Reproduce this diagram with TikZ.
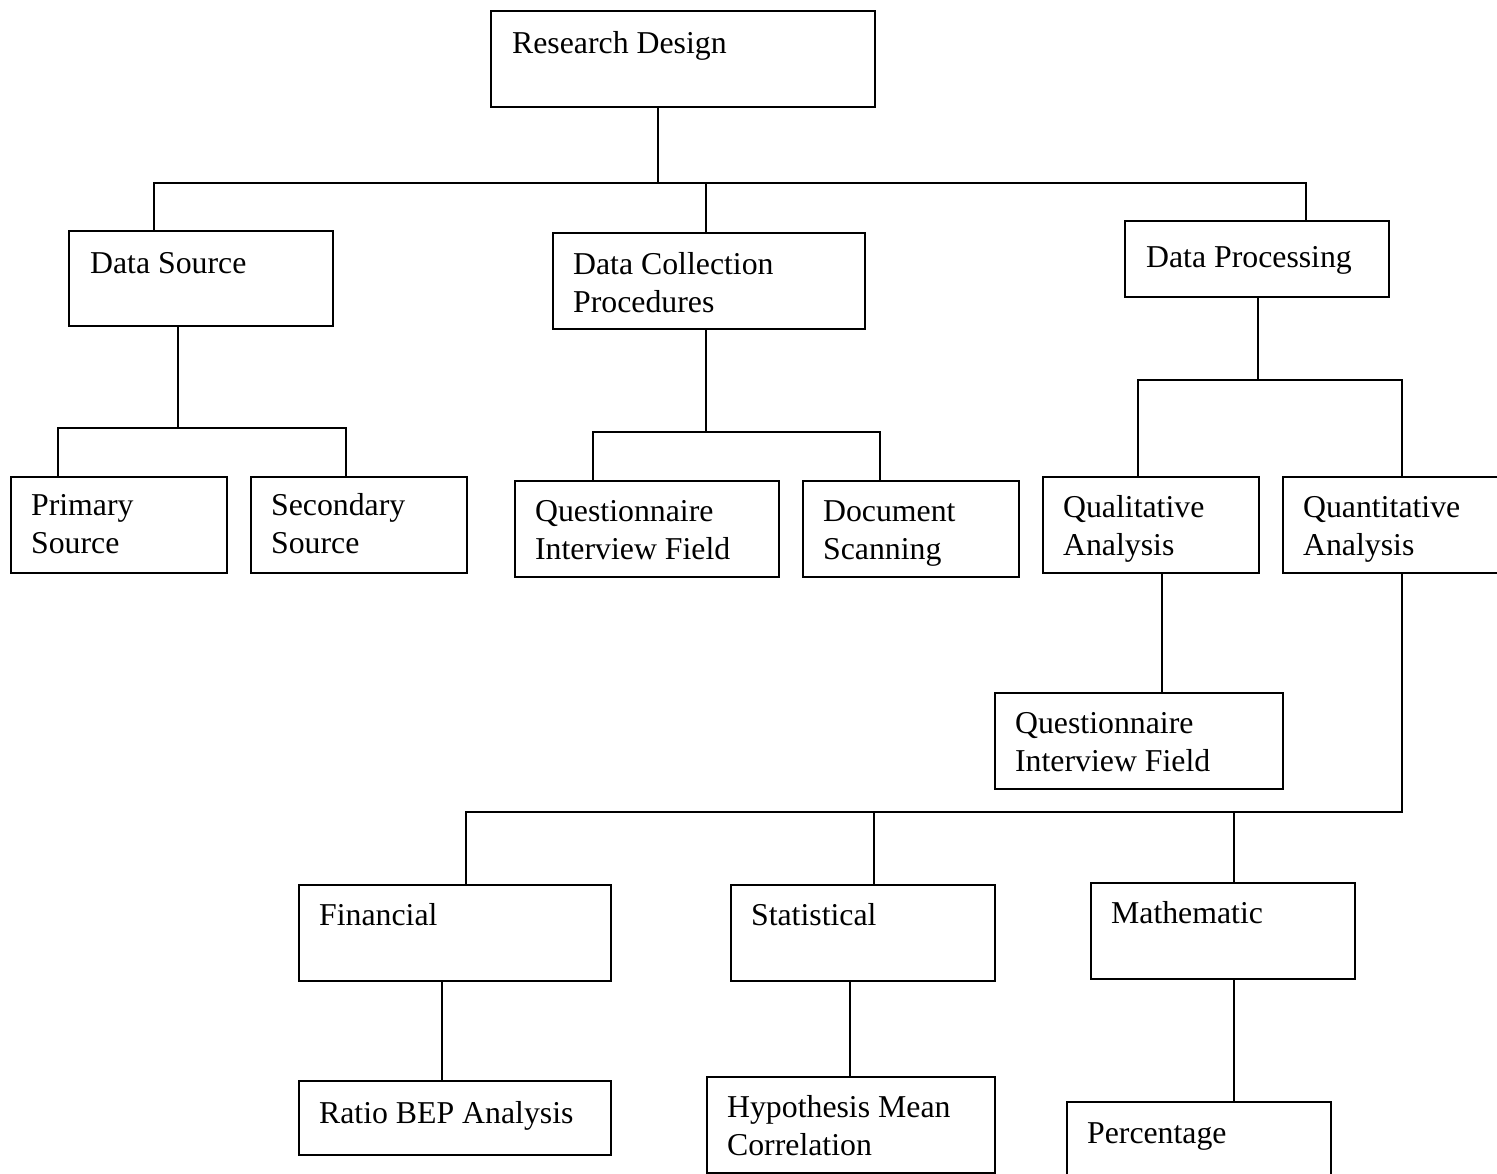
\documentclass[tikz,border=0pt]{standalone}
\usepackage{fontspec}
\setmainfont{Liberation Serif}
\begin{document}
\begin{tikzpicture}[x=1pt,y=-1pt,line width=2.2pt,
  box/.style={draw,rectangle,inner sep=0,anchor=north west},
  txt/.style={anchor=north west,inner sep=0,align=left,yshift=26.6pt,
    font=\fontsize{31.8}{38}\selectfont}]
\useasboundingbox (0,0) rectangle (1497,1173);
% boxes
\newcommand\bx[5]{\node[box,minimum width={#4-#2},minimum height={#5-#3}] (#1) at (#2,#3) {};}
\bx{rd}{490}{10}{874}{106}
\bx{ds}{68}{230}{332}{325}
\bx{dcp}{552}{232}{864}{328}
\bx{dp}{1124}{220}{1388}{296}
\bx{ps}{10}{476}{226}{572}
\bx{ss}{250}{476}{466}{572}
\bx{qif}{514}{480}{778}{576}
\bx{doc}{802}{480}{1018}{576}
\bx{qual}{1042}{476}{1258}{572}
\bx{quan}{1282}{476}{1520}{572}
\bx{qiftwo}{994}{692}{1282}{788}
\bx{fin}{298}{884}{610}{980}
\bx{stat}{730}{884}{994}{980}
\bx{math}{1090}{882}{1354}{978}
\bx{ratio}{298}{1080}{610}{1154}
\bx{hyp}{706}{1076}{994}{1172}
\bx{pct}{1066}{1101}{1330}{1200}
% texts
\node[txt] (trd) at (511,52) {\strut Research Design};
\node[txt] (tds) at (89,272) {\strut Data Source};
\node[txt] (tdcp) at (572,273) {\strut Data Collection\\\strut Procedures};
\node[txt] (tdp) at (1145,266) {\strut Data Processing};
\node[txt] (tps) at (30,514) {\strut Primary\\\strut Source};
\node[txt] (tss) at (270,514) {\strut Secondary\\\strut Source};
\node[txt] (tqif) at (534,520) {\strut Questionnaire\\\strut Interview Field};
\node[txt] (tdoc) at (822,520) {\strut Document\\\strut Scanning};
\node[txt] (tqual) at (1062,516) {\strut Qualitative\\\strut Analysis};
\node[txt] (tquan) at (1302,516) {\strut Quantitative\\\strut Analysis};
\node[txt] (tqiftwo) at (1014,732) {\strut Questionnaire\\\strut Interview Field};
\node[txt] (tfin) at (318,924) {\strut Financial};
\node[txt] (tstat) at (750,924) {\strut Statistical};
\node[txt] (tmath) at (1110,922) {\strut Mathematic};
\node[txt] (tratio) at (318,1122) {\strut Ratio BEP Analysis};
\node[txt] (thyp) at (726,1116) {\strut Hypothesis Mean\\\strut Correlation};
\node[txt] (tpct) at (1086,1142) {\strut Percentage};
% junction coordinates
\coordinate (a0) at (658,183);
\coordinate (aL) at (154,183);
\coordinate (aM) at (706,183);
\coordinate (aR) at (1306,183);
\coordinate (b0) at (178,428);
\coordinate (bL) at (58,428);
\coordinate (bR) at (346,428);
\coordinate (c0) at (706,432);
\coordinate (cL) at (593,432);
\coordinate (cR) at (880,432);
\coordinate (d0) at (1258,380);
\coordinate (dL) at (1138,380);
\coordinate (dR) at (1402,380);
\coordinate (e0) at (1162,600);
\coordinate (f0) at (1402,812);
\coordinate (fL) at (466,812);
\coordinate (fM) at (874,812);
\coordinate (fR) at (1234,812);
\coordinate (g1) at (442,1000);
\coordinate (g2) at (850,1000);
\coordinate (g3) at (1234,1000);
% connectors
\draw (a0 |- rd.south) -- (a0);
\draw (ds.north -| aL) -- (aL) -- (aR) -- (dp.north -| aR);
\draw (aM) -- (dcp.north -| aM);
\draw (b0 |- ds.south) -- (b0);
\draw (ps.north -| bL) -- (bL) -- (bR) -- (ss.north -| bR);
\draw (c0 |- dcp.south) -- (c0);
\draw (qif.north -| cL) -- (cL) -- (cR) -- (doc.north -| cR);
\draw (d0 |- dp.south) -- (d0);
\draw (qual.north -| dL) -- (dL) -- (dR) -- (quan.north -| dR);
\draw (e0 |- qual.south) -- (e0 |- qiftwo.north);
\draw (f0 |- quan.south) -- (f0) -- (fL) -- (fin.north -| fL);
\draw (fM) -- (stat.north -| fM);
\draw (fR) -- (math.north -| fR);
\draw (g1 |- fin.south) -- (g1 |- ratio.north);
\draw (g2 |- stat.south) -- (g2 |- hyp.north);
\draw (g3 |- math.south) -- (g3 |- pct.north);
\end{tikzpicture}
\end{document}
